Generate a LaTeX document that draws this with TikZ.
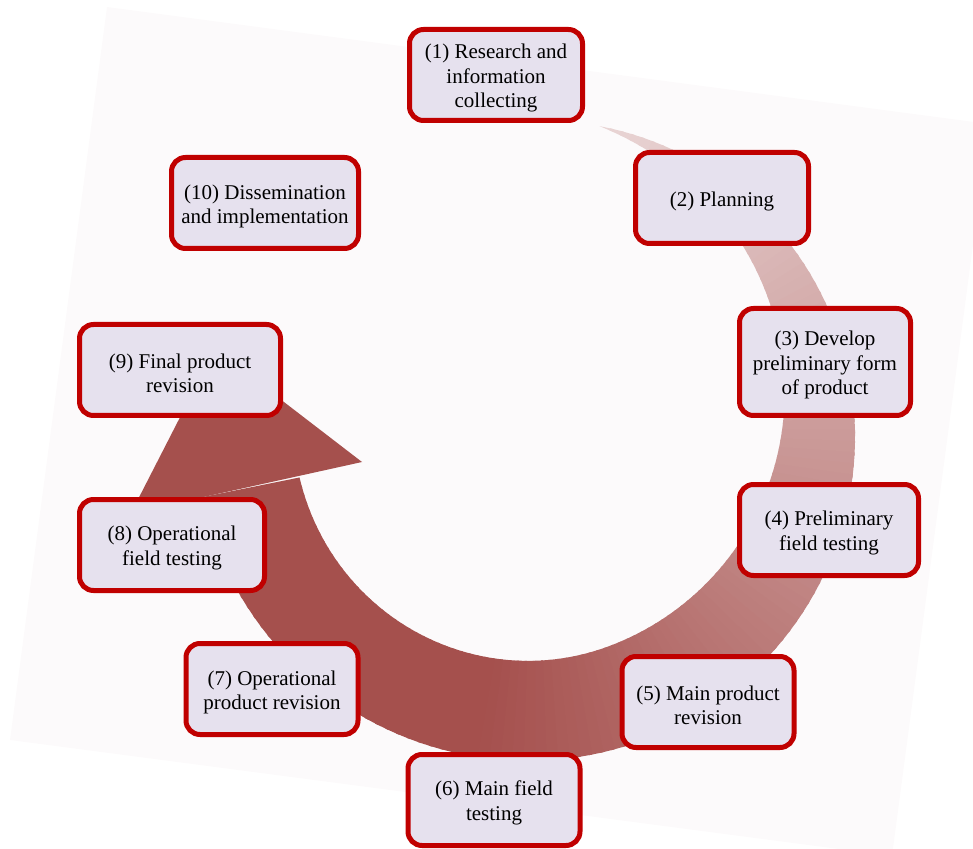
\documentclass[tikz,border=0pt]{standalone}
\usepackage{fontspec}
\setmainfont{Liberation Serif}
\definecolor{stageRed}{HTML}{C00000}
\definecolor{stageFill}{HTML}{E6E1EE}
\definecolor{arrowRed}{HTML}{A5504D}
\definecolor{paper}{HTML}{FCFAFB}
\newcommand{\topstrut}{\rule{0pt}{10.5pt}}
\begin{document}
\begin{tikzpicture}[x=0.5pt, y=-0.5pt,
	stage/.style={draw=stageRed, line width=2.5pt, fill=stageFill, rounded corners=7pt,
		align=center, minimum height=45.5pt, inner sep=2pt,
		font=\fontsize{10.5}{12.25}\selectfont}]
	
	\useasboundingbox (0,0) rectangle (973,849);
	\fill[paper] (107,7) -- (989,124) -- (892,856) -- (10,740) -- cycle;
	
	% circular arrow, widening and darkening clockwise
	\foreach \a in {-78,-76,...,166} {
		\pgfmathsetmacro{\angb}{\a+2.6}
		\pgfmathsetmacro{\ra}{320+0.12*\a}
		\pgfmathsetmacro{\rb}{320+0.12*\angb}
		\pgfmathsetmacro{\ia}{\ra-100*sin(min(90,(\a+78)*0.6))}
		\pgfmathsetmacro{\ib}{\rb-100*sin(min(90,(\angb+78)*0.6))}
		\pgfmathsetmacro{\pct}{min(100,22+(\a+78)*0.44)}
		\fill[arrowRed!\pct!paper, shift={(535,430)}]
			(\a:\ra) -- (\angb:\rb) -- (\angb:\ib) -- (\a:\ia) -- cycle;
	}
	\fill[arrowRed] (362,462) -- (215,349) -- (131,513) -- cycle;
	
	\node[stage, minimum width=86.5pt] (s1) at (496,75) {\topstrut(1) Research and\\information\\collecting};
	\node[stage, minimum width=86.5pt] (s2) at (722,198) {\topstrut(2) Planning};
	\node[stage, minimum width=85.5pt, minimum height=53.5pt] (s3) at (825,362) {\topstrut(3) Develop\\preliminary form\\of product};
	\node[stage, minimum width=89.5pt] (s4) at (829,530) {\topstrut(4) Preliminary\\field testing};
	\node[stage, minimum width=86pt] (s5) at (708,702) {\topstrut(5) Main product\\revision};
	\node[stage, minimum width=86pt] (s6) at (494,800) {\topstrut(6) Main field\\testing};
	\node[stage, minimum width=86pt] (s7) at (272,689) {\topstrut(7) Operational\\product revision};
	\node[stage, minimum width=92.5pt] (s8) at (172,545) {\topstrut(8) Operational\\field testing};
	\node[stage, minimum width=100.5pt] (s9) at (180,370) {\topstrut(9) Final product\\revision};
	\node[stage, minimum width=93.5pt] (s10) at (265,203) {\topstrut(10) Dissemination\\and implementation};
	
\end{tikzpicture}
\end{document}
